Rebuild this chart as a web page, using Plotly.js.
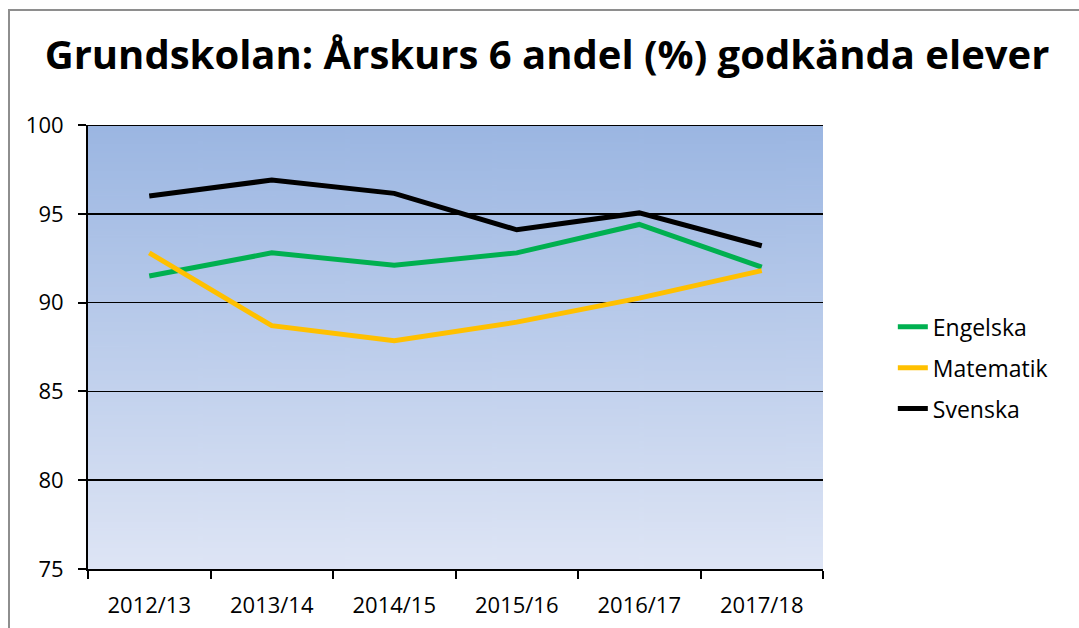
<!DOCTYPE html>
<html><head><meta charset="utf-8">
<script src="https://cdn.plot.ly/plotly-3.0.1.min.js"></script>
<style>html,body{margin:0;padding:0;background:#fff;}#frame{position:absolute;left:8px;top:9px;width:1200px;height:800px;border:2px solid #8e8e8e;pointer-events:none;}</style>
</head><body>
<div id="chart" style="width:1079px;height:628px;position:absolute;left:0;top:0;"></div>
<div id="frame"></div>
<script>
const years = ["2012/13","2013/14","2014/15","2015/16","2016/17","2017/18"];
const engelska = [91.5, 92.8, 92.1, 92.8, 94.4, 92.0];
const matematik = [92.8, 88.7, 87.85, 88.9, 90.25, 91.8];
const svenska = [96.0, 96.9, 96.15, 94.1, 95.05, 93.2];

const cv = document.createElement('canvas');
cv.width = 10; cv.height = 400;
const ctx = cv.getContext('2d');
const g = ctx.createLinearGradient(0,0,0,400);
g.addColorStop(0,'#9bb6e2');
g.addColorStop(1,'#dee5f5');
ctx.fillStyle = g; ctx.fillRect(0,0,10,400);
const bg = cv.toDataURL('image/png');

const font = "Open Sans, Liberation Sans, sans-serif";
const traces = [
  {name:"Engelska", legendgroup:"a", x:years, y:engelska, type:"scatter", mode:"lines", line:{color:"#00b050", width:5}},
  {name:"Matematik", legendgroup:"b", x:years, y:matematik, type:"scatter", mode:"lines", line:{color:"#ffc000", width:5}},
  {name:"Svenska", legendgroup:"c", x:years, y:svenska, type:"scatter", mode:"lines", line:{color:"#000000", width:5}}
];
const layout = {
  width:1079, height:628,
  margin:{l:88, r:256, t:125, b:59},
  paper_bgcolor:"rgba(0,0,0,0)",
  plot_bgcolor:"rgba(0,0,0,0)",
  title:{text:"<b>Grundskolan: Årskurs 6 andel (%) godkända elever</b>", x:0.507, xanchor:"center", y:0.912, yanchor:"middle", font:{family:font, size:40, color:"#000"}},
  images:[{source:bg, xref:"paper", yref:"paper", x:0, y:1, sizex:1, sizey:1, xanchor:"left", yanchor:"top", sizing:"stretch", layer:"below"}],
  xaxis:{type:"category", range:[-0.5,5.5], showgrid:false, showline:true, linecolor:"#000", linewidth:2, ticks:"outside", tickson:"boundaries", ticklen:8, tickwidth:2, tickcolor:"#000", ticklabelstandoff:16, tickfont:{family:font, size:22, color:"#000"}, fixedrange:true},
  yaxis:{range:[75,100], dtick:5, showgrid:true, gridcolor:"#000", gridwidth:1.5, showline:true, linecolor:"#000", linewidth:2, ticks:"outside", ticklen:8, tickwidth:2, tickcolor:"#000", ticklabelstandoff:10, tickfont:{family:font, size:22, color:"#000"}, zeroline:false, fixedrange:true},
  shapes:[{type:"line", xref:"paper", yref:"y", x0:0, x1:1, y0:100, y1:100, line:{color:"#000", width:2}}],
  legend:{x:1.095, y:0.453, xanchor:"left", yanchor:"middle", traceorder:"grouped", font:{family:font, size:23, color:"#000"}, tracegroupgap:8, bgcolor:"rgba(0,0,0,0)"},
  showlegend:true
};
Plotly.newPlot('chart', traces, layout, {displayModeBar:false, staticPlot:true});
</script>
</body></html>
